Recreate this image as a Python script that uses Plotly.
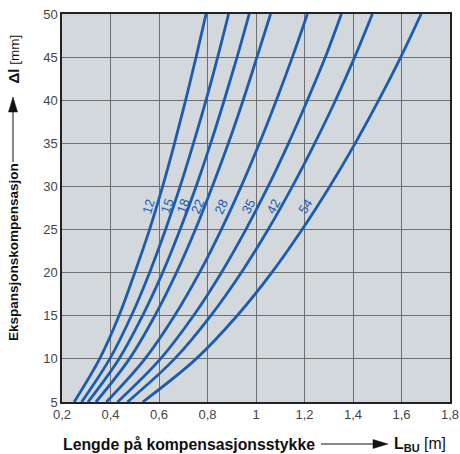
import plotly.graph_objects as go

# expansion (mm) on the y axis
dl_mm = [5, 10, 15, 20, 25, 30, 35, 40, 45, 50]

# pipe diameters and the read-off length L_BU (m) at each dl value
diameters = ["12", "15", "18", "22", "28", "35", "42", "54"]
L_12 = [0.25, 0.355, 0.435, 0.50, 0.561, 0.615, 0.664, 0.71, 0.753, 0.794]
L_15 = [0.281, 0.397, 0.486, 0.561, 0.627, 0.687, 0.742, 0.794, 0.842, 0.887]
L_18 = [0.307, 0.435, 0.532, 0.615, 0.687, 0.753, 0.813, 0.869, 0.922, 0.972]
L_22 = [0.34, 0.478, 0.583, 0.672, 0.75, 0.82, 0.886, 0.947, 1.004, 1.06]
L_28 = [0.383, 0.542, 0.664, 0.767, 0.857, 0.939, 1.014, 1.084, 1.15, 1.212]
L_35 = [0.429, 0.606, 0.742, 0.857, 0.958, 1.05, 1.134, 1.212, 1.286, 1.352]
L_42 = [0.47, 0.664, 0.813, 0.939, 1.05, 1.15, 1.242, 1.328, 1.407, 1.48]
L_54 = [0.533, 0.753, 0.922, 1.065, 1.19, 1.304, 1.409, 1.506, 1.597, 1.681]
curves = [L_12, L_15, L_18, L_22, L_28, L_35, L_42, L_54]

# where the diameter labels sit
label_x = [0.556, 0.632, 0.698, 0.758, 0.854, 0.968, 1.071, 1.202]
label_y = [27.7, 27.7, 27.7, 27.7, 27.6, 27.7, 27.7, 27.7]

x_ticks = [0.2, 0.4, 0.6, 0.8, 1.0, 1.2, 1.4, 1.6, 1.8]
y_ticks = [5, 10, 15, 20, 25, 30, 35, 40, 45, 50]

BLUE = "#1b5cb0"
FONT = "Liberation Sans, Arial, sans-serif"
W, H = 460, 454
ML, MR, MT, MB = 62, 10, 14, 52
PW, PH = W - ML - MR, H - MT - MB


# pixel -> paper helpers for the axis title pieces
def px(x):
    return (x - ML) / PW


def py(y):
    return (H - MB - y) / PH


fig = go.Figure()
for d, xs in zip(diameters, curves):
    fig.add_trace(go.Scatter(x=xs, y=dl_mm, mode="lines", name=d,
                             line=dict(color=BLUE, width=2.8, shape="spline"),
                             showlegend=False))

label_angles = [-73, -71, -70, -68, -65, -63, -61, -57]
for d, lx, ly, ang in zip(diameters, label_x, label_y, label_angles):
    fig.add_annotation(x=lx, y=ly, text=d, showarrow=False, textangle=ang,
                       font=dict(family=FONT, size=13, color=BLUE))

x_title_font = dict(family=FONT, size=15.8, color="#111")
y_title_font = dict(family=FONT, size=13.5, color="#111")

# x title: text, arrow, symbol
fig.add_annotation(xref="paper", yref="paper", x=px(61), y=py(444), xanchor="left",
                   yanchor="middle", showarrow=False,
                   text="<b>Lengde på kompensasjonsstykke</b>", font=x_title_font)
fig.add_annotation(xref="paper", yref="paper", x=px(392), y=py(444.5), xanchor="left",
                   yanchor="middle", showarrow=False,
                   text="<b>L</b><sub><b>BU</b></sub> [m]",
                   font=x_title_font)
fig.add_shape(type="line", xref="paper", yref="paper", x0=px(321), x1=px(376),
              y0=py(444), y1=py(444), line=dict(color="#111", width=1))
fig.add_shape(type="path", xref="paper", yref="paper", fillcolor="#111",
              line=dict(color="#111", width=0.5),
              path=f"M {px(373)},{py(439.5)} L {px(388)},{py(444)} L {px(373)},{py(448.5)} Z")

# y title: text, arrow, symbol
fig.add_annotation(xref="paper", yref="paper", x=px(13), y=py(343), xanchor="center",
                   yanchor="bottom", textangle=-90, showarrow=False,
                   text="<b>Ekspansjonskompensasjon</b>", font=y_title_font)
fig.add_annotation(xref="paper", yref="paper", x=px(13), y=py(33), xanchor="center",
                   yanchor="top", textangle=-90, showarrow=False,
                   text="<b><span style='font-size:15px'>Δl</span></b> [mm]", font=y_title_font)
fig.add_shape(type="line", xref="paper", yref="paper", x0=px(13), x1=px(13),
              y0=py(162), y1=py(110), line=dict(color="#111", width=1))
fig.add_shape(type="path", xref="paper", yref="paper", fillcolor="#111",
              line=dict(color="#111", width=0.5),
              path=f"M {px(8.5)},{py(112)} L {px(13)},{py(97)} L {px(17.5)},{py(112)} Z")

fig.update_layout(
    width=W, height=H,
    margin=dict(l=ML, r=MR, t=MT, b=MB),
    paper_bgcolor="white", plot_bgcolor="#d3d8dc",
    separators=", ",
    font=dict(family=FONT, size=13, color="#444"),
    xaxis=dict(range=[0.2, 1.8], tickvals=x_ticks, showgrid=True, gridcolor="#6f6f6f",
               gridwidth=1, zeroline=False, showline=True, linecolor="#222", linewidth=1.5,
               mirror=True, ticks="", fixedrange=True, automargin=False),
    yaxis=dict(range=[5, 50], tickvals=y_ticks, showgrid=True, gridcolor="#6f6f6f",
               gridwidth=1, zeroline=False, showline=True, linecolor="#222", linewidth=1.5,
               mirror=True, ticks="", fixedrange=True, automargin=False),
)

fig.write_html("out.html", config={"displayModeBar": False},
               post_script="document.body.style.margin='0';")
